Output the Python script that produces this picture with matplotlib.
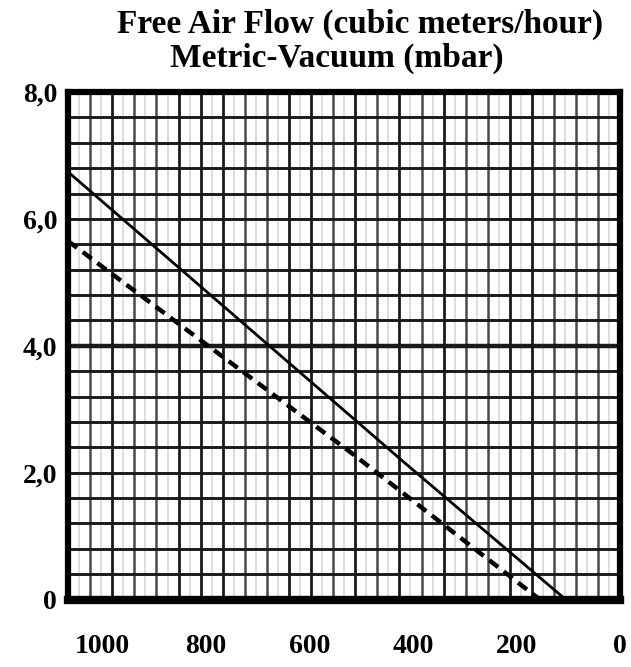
import numpy as np
import matplotlib
matplotlib.use('Agg')
import matplotlib.pyplot as plt

# curves
SOLID_FLOW = [1065, 415, 105]
SOLID_VAC = [6.74, 2.15, 0.0]
DASHED_FLOW = [1065, 515, 155]
DASHED_VAC = [5.65, 2.29, 0.0]

X_TICKS = [1000, 800, 600, 400, 200, 0]
Y_TICKS = [0, 2, 4, 6, 8]
Y_LABELS = ["0", "2,0", "4,0", "6,0", "8,0"]

X_MAX = 1065
Y_MAX = 8


def draw_paper(ax):
    # scanned graph paper: 25 columns, 20 rows
    cols = np.linspace(0, X_MAX, 26)
    dark = {4, 5, 8, 10, 12, 14, 15, 18, 19, 20, 23}
    step = cols[1] - cols[0]
    for i, c in enumerate(cols[1:-1], start=1):
        if i in dark:
            ax.axvline(c, color="#1a1a1a", lw=2.0, zorder=1)
        else:
            ax.axvline(c, color="#4a4a4a", lw=1.8, zorder=1)
    for c in cols[:-1]:
        ax.axvline(c + step / 2, color="#dadada", lw=1.3, zorder=0.5)
    rows = np.linspace(0, Y_MAX, 21)
    for r in rows[1:-1]:
        lw = 3.2 if abs(r - 4) < 1e-6 else 2.1
        ax.axhline(r, color="#1a1a1a", lw=lw, zorder=1)


def main():
    fig = plt.figure(figsize=(6.31, 6.67), dpi=100)
    ax = fig.add_axes([0.108, 0.101, 0.875, 0.761])
    draw_paper(ax)

    ax.plot(SOLID_FLOW, SOLID_VAC, color="black", lw=2.0, zorder=3)
    ax.plot(DASHED_FLOW, DASHED_VAC, color="black", lw=3.2,
            dashes=(2.5, 1.6), zorder=3)

    ax.set_xlim(X_MAX, 0)
    ax.set_ylim(0, Y_MAX)
    for side in ax.spines.values():
        side.set_linewidth(4.5)
        side.set_color("black")
        side.set_zorder(4)
    ax.spines["bottom"].set_linewidth(6)

    font = dict(family="Liberation Serif", weight="bold", size=20)
    ax.set_xticks(X_TICKS)
    ax.set_xticklabels([str(v) for v in X_TICKS], **font)
    ax.set_yticks(Y_TICKS)
    ax.set_yticklabels(Y_LABELS, **font)
    ax.tick_params(axis="x", length=0, pad=25)
    ax.tick_params(axis="y", length=0, pad=8)

    title_font = dict(font, size=24)
    fig.text(0.571, 0.964, "Free Air Flow (cubic meters/hour)",
             ha="center", va="center", **title_font)
    fig.text(0.533, 0.912, "Metric-Vacuum (mbar)",
             ha="center", va="center", **title_font)

    fig.savefig("out.png", dpi=100)


if __name__ == "__main__":
    main()
